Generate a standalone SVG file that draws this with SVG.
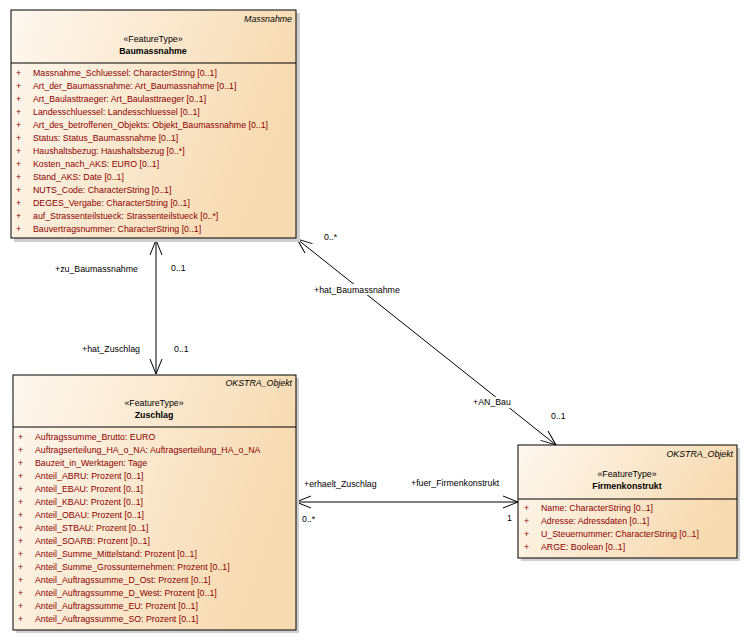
<svg xmlns="http://www.w3.org/2000/svg" width="747" height="641" viewBox="0 0 747 641">
<defs>
<linearGradient id="fill" x1="0" y1="0" x2="1" y2="0.3">
<stop offset="0" stop-color="#FEF8F0"/>
<stop offset="1" stop-color="#F7DAB0"/>
</linearGradient>
<marker id="arr" markerUnits="userSpaceOnUse" markerWidth="17" markerHeight="14" viewBox="0 0 17 14" refX="16" refY="7" orient="auto-start-reverse">
<path d="M1,1 L16,7 L1,13" fill="none" stroke="#000" stroke-width="1"/>
</marker>
</defs>
<style>
text{font-family:"Liberation Sans",Arial,sans-serif;font-size:8.8px;fill:#000}
.box{fill:url(#fill);stroke:#000;stroke-width:1}
.sh{fill:#cfcfcf}
.sep{stroke:#000;stroke-width:1}
.st{text-anchor:middle}
.nm{text-anchor:middle;font-weight:bold}
.pk{text-anchor:end;font-style:italic}
.at{fill:#8B0000}
.con{stroke:#000;stroke-width:1;fill:none;marker-start:url(#arr);marker-end:url(#arr)}
</style>
<rect width="747" height="641" fill="#fff"/>

<g id="connectors">
<line class="con" x1="156" y1="240" x2="156" y2="374"/>
<line class="con" x1="297" y1="239" x2="556" y2="445"/>
<line class="con" x1="296" y1="502" x2="518" y2="502"/>
<rect x="313" y="284" width="90" height="11" fill="#fff"/>
<rect x="472" y="397" width="40" height="11" fill="#fff"/>
<text x="55" y="272">+zu_Baumassnahme</text>
<text x="171" y="271">0..1</text>
<text x="82" y="352">+hat_Zuschlag</text>
<text x="174" y="352">0..1</text>
<text x="324" y="240">0..*</text>
<text x="314" y="293">+hat_Baumassnahme</text>
<text x="473" y="405">+AN_Bau</text>
<text x="551" y="419">0..1</text>
<text x="304" y="487">+erhaelt_Zuschlag</text>
<text x="411" y="486">+fuer_Firmenkonstrukt</text>
<text x="302" y="522">0..*</text>
<text x="507" y="521">1</text>
</g>

<g id="Baumassnahme">
<rect class="sh" x="14" y="13" width="286" height="229"/>
<rect class="box" x="11" y="10" width="285" height="228"/>
<line class="sep" x1="11" y1="63" x2="296" y2="63"/>
<text class="pk" x="292" y="22">Massnahme</text>
<text class="st" x="153" y="42">«FeatureType»</text>
<text class="nm" x="153" y="54">Baumassnahme</text>
<g>
<text class="at" x="16" y="76">+</text><text class="at" x="33" y="76">Massnahme_Schluessel: CharacterString [0..1]</text>
<text class="at" x="16" y="89">+</text><text class="at" x="33" y="89">Art_der_Baumassnahme: Art_Baumassnahme [0..1]</text>
<text class="at" x="16" y="102">+</text><text class="at" x="33" y="102">Art_Baulasttraeger: Art_Baulasttraeger [0..1]</text>
<text class="at" x="16" y="115">+</text><text class="at" x="33" y="115">Landesschluessel: Landesschluessel [0..1]</text>
<text class="at" x="16" y="128">+</text><text class="at" x="33" y="128">Art_des_betroffenen_Objekts: Objekt_Baumassnahme [0..1]</text>
<text class="at" x="16" y="141">+</text><text class="at" x="33" y="141">Status: Status_Baumassnahme [0..1]</text>
<text class="at" x="16" y="154">+</text><text class="at" x="33" y="154">Haushaltsbezug: Haushaltsbezug [0..*]</text>
<text class="at" x="16" y="167">+</text><text class="at" x="33" y="167">Kosten_nach_AKS: EURO [0..1]</text>
<text class="at" x="16" y="180">+</text><text class="at" x="33" y="180">Stand_AKS: Date [0..1]</text>
<text class="at" x="16" y="193">+</text><text class="at" x="33" y="193">NUTS_Code: CharacterString [0..1]</text>
<text class="at" x="16" y="206">+</text><text class="at" x="33" y="206">DEGES_Vergabe: CharacterString [0..1]</text>
<text class="at" x="16" y="219">+</text><text class="at" x="33" y="219">auf_Strassenteilstueck: Strassenteilstueck [0..*]</text>
<text class="at" x="16" y="232">+</text><text class="at" x="33" y="232">Bauvertragsnummer: CharacterString [0..1]</text>
</g>
</g>

<g id="Zuschlag">
<rect class="sh" x="16" y="378" width="283" height="255"/>
<rect class="box" x="13" y="375" width="283" height="255"/>
<line class="sep" x1="13" y1="427" x2="296" y2="427"/>
<text class="pk" x="292" y="386">OKSTRA_Objekt</text>
<text class="st" x="154" y="406">«FeatureType»</text>
<text class="nm" x="154" y="418">Zuschlag</text>
<g>
<text class="at" x="18" y="440">+</text><text class="at" x="35" y="440">Auftragssumme_Brutto: EURO</text>
<text class="at" x="18" y="453">+</text><text class="at" x="35" y="453">Auftragserteilung_HA_o_NA: Auftragserteilung_HA_o_NA</text>
<text class="at" x="18" y="466">+</text><text class="at" x="35" y="466">Bauzeit_in_Werktagen: Tage</text>
<text class="at" x="18" y="479">+</text><text class="at" x="35" y="479">Anteil_ABRU: Prozent [0..1]</text>
<text class="at" x="18" y="492">+</text><text class="at" x="35" y="492">Anteil_EBAU: Prozent [0..1]</text>
<text class="at" x="18" y="505">+</text><text class="at" x="35" y="505">Anteil_KBAU: Prozent [0..1]</text>
<text class="at" x="18" y="518">+</text><text class="at" x="35" y="518">Anteil_OBAU: Prozent [0..1]</text>
<text class="at" x="18" y="531">+</text><text class="at" x="35" y="531">Anteil_STBAU: Prozent [0..1]</text>
<text class="at" x="18" y="544">+</text><text class="at" x="35" y="544">Anteil_SOARB: Prozent [0..1]</text>
<text class="at" x="18" y="557">+</text><text class="at" x="35" y="557">Anteil_Summe_Mittelstand: Prozent [0..1]</text>
<text class="at" x="18" y="570">+</text><text class="at" x="35" y="570">Anteil_Summe_Grossunternehmen: Prozent [0..1]</text>
<text class="at" x="18" y="583">+</text><text class="at" x="35" y="583">Anteil_Auftragssumme_D_Ost: Prozent [0..1]</text>
<text class="at" x="18" y="596">+</text><text class="at" x="35" y="596">Anteil_Auftragssumme_D_West: Prozent [0..1]</text>
<text class="at" x="18" y="609">+</text><text class="at" x="35" y="609">Anteil_Auftragssumme_EU: Prozent [0..1]</text>
<text class="at" x="18" y="622">+</text><text class="at" x="35" y="622">Anteil_Auftragssumme_SO: Prozent [0..1]</text>
</g>
</g>

<g id="Firmenkonstrukt">
<rect class="sh" x="521" y="448" width="219" height="113"/>
<rect class="box" x="518" y="445" width="219" height="113"/>
<line class="sep" x1="518" y1="499" x2="737" y2="499"/>
<text class="pk" x="733" y="457">OKSTRA_Objekt</text>
<text class="st" x="627" y="477">«FeatureType»</text>
<text class="nm" x="627" y="489">Firmenkonstrukt</text>
<g>
<text class="at" x="524" y="511">+</text><text class="at" x="541" y="511">Name: CharacterString [0..1]</text>
<text class="at" x="524" y="524">+</text><text class="at" x="541" y="524">Adresse: Adressdaten [0..1]</text>
<text class="at" x="524" y="537">+</text><text class="at" x="541" y="537">U_Steuernummer: CharacterString [0..1]</text>
<text class="at" x="524" y="550">+</text><text class="at" x="541" y="550">ARGE: Boolean [0..1]</text>
</g>
</g>
</svg>
